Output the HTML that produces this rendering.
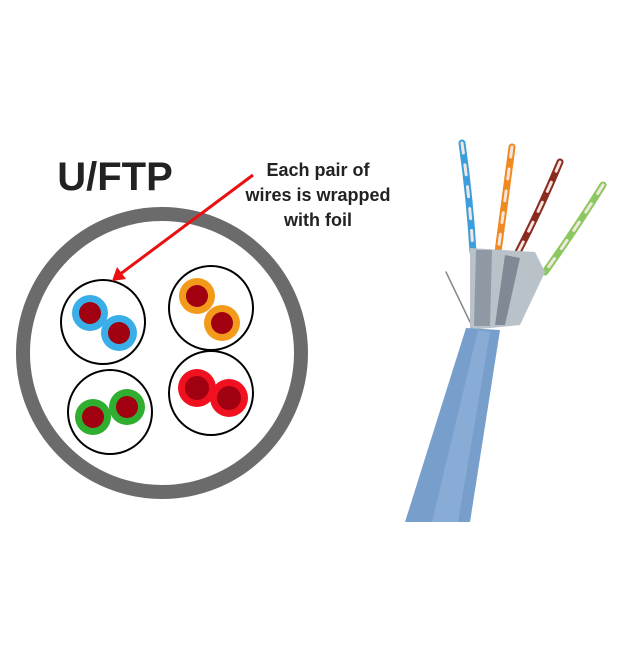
<!DOCTYPE html>
<html><head><style>body{margin:0;background:#fff}</style></head><body>
<svg width="640" height="640" xmlns="http://www.w3.org/2000/svg">
<rect width="640" height="640" fill="#fff"/>
<text x="115" y="190" text-anchor="middle" font-family="Liberation Sans, sans-serif" font-weight="bold" font-size="40" fill="#222">U/FTP</text>
<g font-family="Liberation Sans, sans-serif" font-weight="bold" font-size="18" fill="#222" text-anchor="middle">
<text x="318" y="176">Each pair of</text>
<text x="318" y="201">wires is wrapped</text>
<text x="318" y="226">with foil</text>
</g>
<circle cx="162" cy="353" r="139" fill="#fff" stroke="#6b6b6b" stroke-width="14"/>
<g fill="#fff" stroke="#000" stroke-width="2">
<circle cx="103" cy="322" r="42"/><circle cx="211" cy="308" r="42"/>
<circle cx="110" cy="412" r="42"/><circle cx="211" cy="393" r="42"/>
</g>
<g>
<circle cx="90" cy="313" r="18" fill="#3aaee8"/><circle cx="119" cy="333" r="18" fill="#3aaee8"/>
<circle cx="90" cy="313" r="11" fill="#a00010"/><circle cx="119" cy="333" r="11" fill="#a00010"/>
<circle cx="197" cy="296" r="18" fill="#f39a1a"/><circle cx="222" cy="323" r="18" fill="#f39a1a"/>
<circle cx="197" cy="296" r="11" fill="#a00010"/><circle cx="222" cy="323" r="11" fill="#a00010"/>
<circle cx="93" cy="417" r="18" fill="#2fae2f"/><circle cx="127" cy="407" r="18" fill="#2fae2f"/>
<circle cx="93" cy="417" r="11" fill="#a00010"/><circle cx="127" cy="407" r="11" fill="#a00010"/>
<circle cx="197" cy="388" r="19" fill="#f01020"/><circle cx="229" cy="398" r="19" fill="#f01020"/>
<circle cx="197" cy="388" r="12" fill="#a00010"/><circle cx="229" cy="398" r="12" fill="#a00010"/>
</g>
<line x1="253" y1="175" x2="119" y2="275" stroke="#e81010" stroke-width="3"/>
<polygon points="112,281 117,267 126,279" fill="#e81010"/>
<!-- cable -->
<g stroke-linecap="round" fill="none">
<path d="M462,143 Q470,200 473,252" stroke="#3a9fdc" stroke-width="7"/>
<path d="M462,143 Q470,200 473,252" stroke="#f3e6e0" stroke-width="3" stroke-dasharray="10 12"/>
<path d="M512,147 Q505,200 498,252" stroke="#f08a20" stroke-width="7"/>
<path d="M512,147 Q505,200 498,252" stroke="#f3e6e0" stroke-width="3" stroke-dasharray="10 12"/>
<path d="M560,162 Q540,210 515,258" stroke="#8b2a1e" stroke-width="7"/>
<path d="M560,162 Q540,210 515,258" stroke="#f3e6e0" stroke-width="3" stroke-dasharray="10 12"/>
<path d="M603,185 Q575,230 545,272" stroke="#8cc860" stroke-width="7"/>
<path d="M603,185 Q575,230 545,272" stroke="#f3e6e0" stroke-width="3" stroke-dasharray="10 12"/>
<path d="M446,272 L470,322" stroke="#888" stroke-width="1.5"/>
</g>
<polygon points="470,248 535,252 545,272 520,325 470,330" fill="#b9c2c9"/>
<polygon points="476,250 492,250 490,326 474,326" fill="#8f99a3"/>
<polygon points="505,255 520,258 505,325 495,325" fill="#7f8a95"/>
<polygon points="466,328 500,330 470,522 405,522" fill="#789fcc"/>
<polygon points="478,330 490,332 458,522 432,522" fill="#88acd6"/>
</svg>
</body></html>
